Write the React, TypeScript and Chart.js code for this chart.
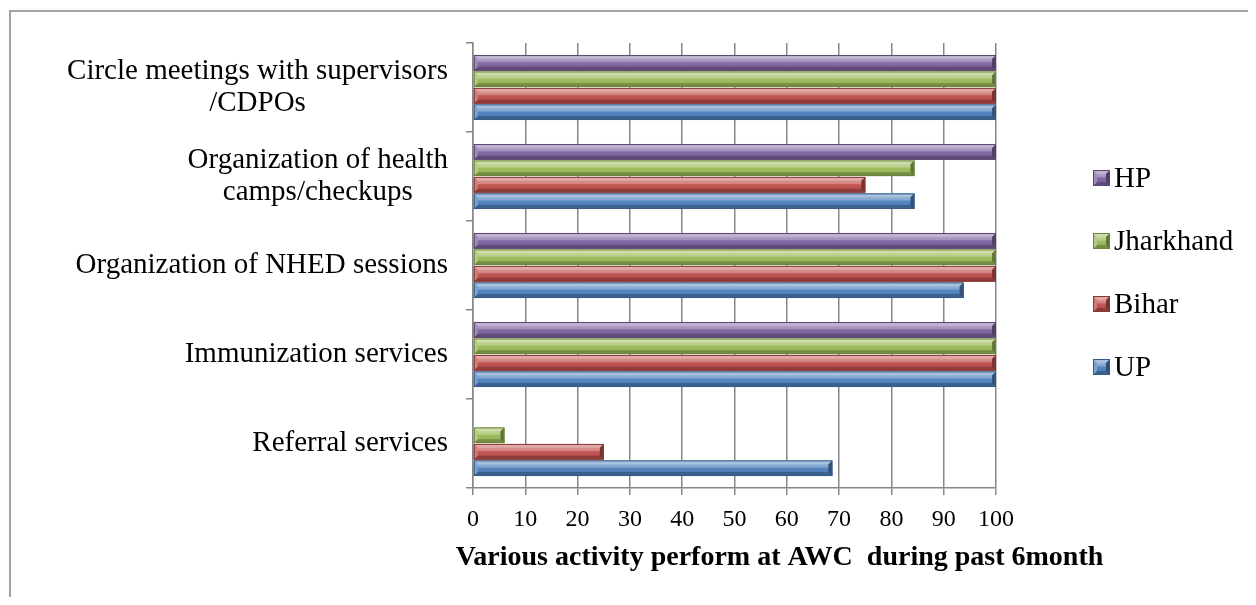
import React, { useEffect, useRef } from "react";
import { Chart, registerables } from "chart.js";

Chart.register(...registerables);

// Activities, listed top to bottom; each entry holds its wrapped lines.
const categories: string[][] = [
  ["Circle meetings with supervisors", "/CDPOs"],
  ["Organization of health", "camps/checkups"],
  ["Organization of NHED sessions"],
  ["Immunization services"],
  ["Referral services"],
];

// Series, in the order they stack within a group (top first).
const seriesNames = ["HP", "Jharkhand", "Bihar", "UP"];
const hpValues = [100, 100, 100, 100, 0];
const jharkhandValues = [100, 84.4, 100, 100, 6];
const biharValues = [100, 75, 100, 100, 25];
const upValues = [100, 84.4, 93.8, 100, 68.7];
const seriesColors = ["#8064A2", "#9BBB59", "#C0504D", "#4F81BD"];

const axisMin = 0;
const axisMax = 100;
const axisStep = 10;
const axisTitle = "Various activity perform at AWC  during past 6month";

const SERIF = "'Liberation Serif', 'Times New Roman', serif";
const GRID = "#878787";

function shade(hex: string, amt: number): string {
  const n = parseInt(hex.slice(1), 16);
  const t = amt < 0 ? 0 : 255;
  const p = Math.abs(amt);
  const ch = [(n >> 16) & 255, (n >> 8) & 255, n & 255].map((v) =>
    Math.round(v + (t - v) * p)
  );
  return `rgb(${ch[0]},${ch[1]},${ch[2]})`;
}

function poly(ctx: CanvasRenderingContext2D, pts: number[][], fill: string) {
  ctx.beginPath();
  ctx.moveTo(pts[0][0], pts[0][1]);
  for (let i = 1; i < pts.length; i++) ctx.lineTo(pts[i][0], pts[i][1]);
  ctx.closePath();
  ctx.fillStyle = fill;
  ctx.fill();
}

// Bevelled block, in the style of office chart presets.
function bevelRect(
  ctx: CanvasRenderingContext2D,
  l: number,
  t: number,
  r: number,
  btm: number,
  c: string
) {
  const w = r - l;
  const h = btm - t;
  if (w < 1 || h < 1) return;
  const b = Math.min(4, h * 0.25, w / 2);
  const g = ctx.createLinearGradient(0, t, 0, btm);
  g.addColorStop(0, shade(c, 0.45));
  g.addColorStop(0.42, shade(c, 0.3));
  g.addColorStop(0.5, shade(c, 0.04));
  g.addColorStop(1, shade(c, -0.08));
  ctx.fillStyle = g;
  ctx.fillRect(l, t, w, h);
  poly(ctx, [[l, t], [r, t], [r - b, t + b], [l + b, t + b]], shade(c, 0.5));
  poly(ctx, [[l, btm], [r, btm], [r - b, btm - b], [l + b, btm - b]], shade(c, -0.25));
  poly(ctx, [[r, t], [r, btm], [r - b, btm - b], [r - b, t + b]], shade(c, -0.38));
  poly(ctx, [[l, t], [l, btm], [l + b, btm - b], [l + b, t + b]], shade(c, 0.25));
  ctx.strokeStyle = shade(c, -0.3);
  ctx.lineWidth = 1;
  ctx.strokeRect(l + 0.5, t + 0.5, w - 1, h - 1);
}

const bevelPlugin = {
  id: "bevelBars",
  afterDatasetsDraw(chart: any) {
    const ctx = chart.ctx as CanvasRenderingContext2D;
    ctx.save();
    chart.data.datasets.forEach((ds: any, di: number) => {
      const meta = chart.getDatasetMeta(di);
      if (meta.hidden) return;
      meta.data.forEach((el: any) => {
        const { x, y, base, height } = el.getProps(["x", "y", "base", "height"], true);
        const l = Math.min(x, base);
        const r = Math.max(x, base);
        bevelRect(ctx, l, y - height / 2, r, y + height / 2, ds.backgroundColor);
      });
    });
    ctx.restore();
  },
};

// Wrapped category names, each block centred on itself and set right of the axis.
const categoryLabelPlugin = {
  id: "categoryLabels",
  afterDraw(chart: any) {
    const ctx = chart.ctx as CanvasRenderingContext2D;
    const yScale = chart.scales.y;
    const lineH = 32;
    const rightEdge = chart.chartArea.left - 25;
    ctx.save();
    ctx.font = `29px ${SERIF}`;
    ctx.fillStyle = "#000";
    ctx.textBaseline = "middle";
    ctx.textAlign = "center";
    categories.forEach((lines, i) => {
      const widest = Math.max(...lines.map((s) => ctx.measureText(s).width));
      const cx = rightEdge - widest / 2;
      const cy = yScale.getPixelForValue(i);
      const y0 = cy - ((lines.length - 1) * lineH) / 2;
      lines.forEach((s, k) => ctx.fillText(s, cx, y0 + k * lineH));
    });
    ctx.restore();
  },
};

const legendPlugin = {
  id: "sideLegend",
  afterDraw(chart: any) {
    const ctx = chart.ctx as CanvasRenderingContext2D;
    const area = chart.chartArea;
    const boxX = area.right + 97;
    const firstY = area.top + 135;
    const gap = 63;
    ctx.save();
    ctx.font = `29px ${SERIF}`;
    ctx.textBaseline = "middle";
    ctx.textAlign = "left";
    chart.data.datasets.forEach((ds: any, i: number) => {
      const cy = firstY + i * gap;
      bevelRect(ctx, boxX, cy - 8, boxX + 17, cy + 8, ds.backgroundColor);
      ctx.fillStyle = "#000";
      ctx.fillText(ds.label, boxX + 21, cy + 1);
    });
    ctx.restore();
  },
};

const axisTitlePlugin = {
  id: "xAxisTitle",
  afterDraw(chart: any) {
    const ctx = chart.ctx as CanvasRenderingContext2D;
    const area = chart.chartArea;
    ctx.save();
    ctx.font = `bold 28px ${SERIF}`;
    ctx.fillStyle = "#000";
    ctx.textAlign = "center";
    ctx.textBaseline = "middle";
    ctx.fillText(axisTitle, (area.left + area.right) / 2 + 45, area.bottom + 70);
    ctx.restore();
  },
};

export default function App() {
  const canvasRef = useRef<HTMLCanvasElement | null>(null);

  useEffect(() => {
    if (!canvasRef.current) return;
    const values = [hpValues, jharkhandValues, biharValues, upValues];
    const chart = new Chart(canvasRef.current, {
      type: "bar",
      data: {
        labels: categories.map((c) => c.join(" ")),
        datasets: seriesNames.map((name, i) => ({
          label: name,
          data: values[i],
          backgroundColor: seriesColors[i],
          borderWidth: 0,
          categoryPercentage: 0.74,
          barPercentage: 0.95,
        })),
      },
      options: {
        indexAxis: "y",
        responsive: false,
        animation: false,
        devicePixelRatio: 1,
        layout: { padding: { top: 35, right: 252, left: 0, bottom: 0 } },
        plugins: {
          legend: { display: false },
          tooltip: { enabled: false },
        },
        scales: {
          y: {
            ticks: { display: false },
            grid: {
              drawOnChartArea: false,
              tickLength: 7,
              color: GRID,
              lineWidth: 1.5,
            },
            border: { color: GRID, width: 1.5 },
            afterFit(scale: any) {
              scale.width = 465;
            },
          },
          x: {
            min: axisMin,
            max: axisMax,
            ticks: {
              stepSize: axisStep,
              color: "#000",
              padding: 10,
              font: { family: SERIF, size: 24 },
            },
            grid: { color: GRID, lineWidth: 1.5, tickLength: 7 },
            border: { color: GRID, width: 1.5 },
            afterFit(scale: any) {
              scale.height = 109;
            },
          },
        },
      },
      plugins: [bevelPlugin, categoryLabelPlugin, legendPlugin, axisTitlePlugin],
    } as any);
    return () => chart.destroy();
  }, []);

  return (
    <div style={{ position: "relative", width: 1240, height: 589 }}>
      <canvas ref={canvasRef} width={1240} height={589} style={{ display: "block" }} />
      <div
        style={{
          position: "absolute",
          left: 1,
          top: 2,
          width: 1238,
          height: 586,
          borderTop: "2px solid #a3a3a3",
          borderLeft: "2px solid #a3a3a3",
          boxShadow: "3px 3px 7px rgba(0,0,0,0.10)",
          pointerEvents: "none",
        }}
      />
    </div>
  );
}
